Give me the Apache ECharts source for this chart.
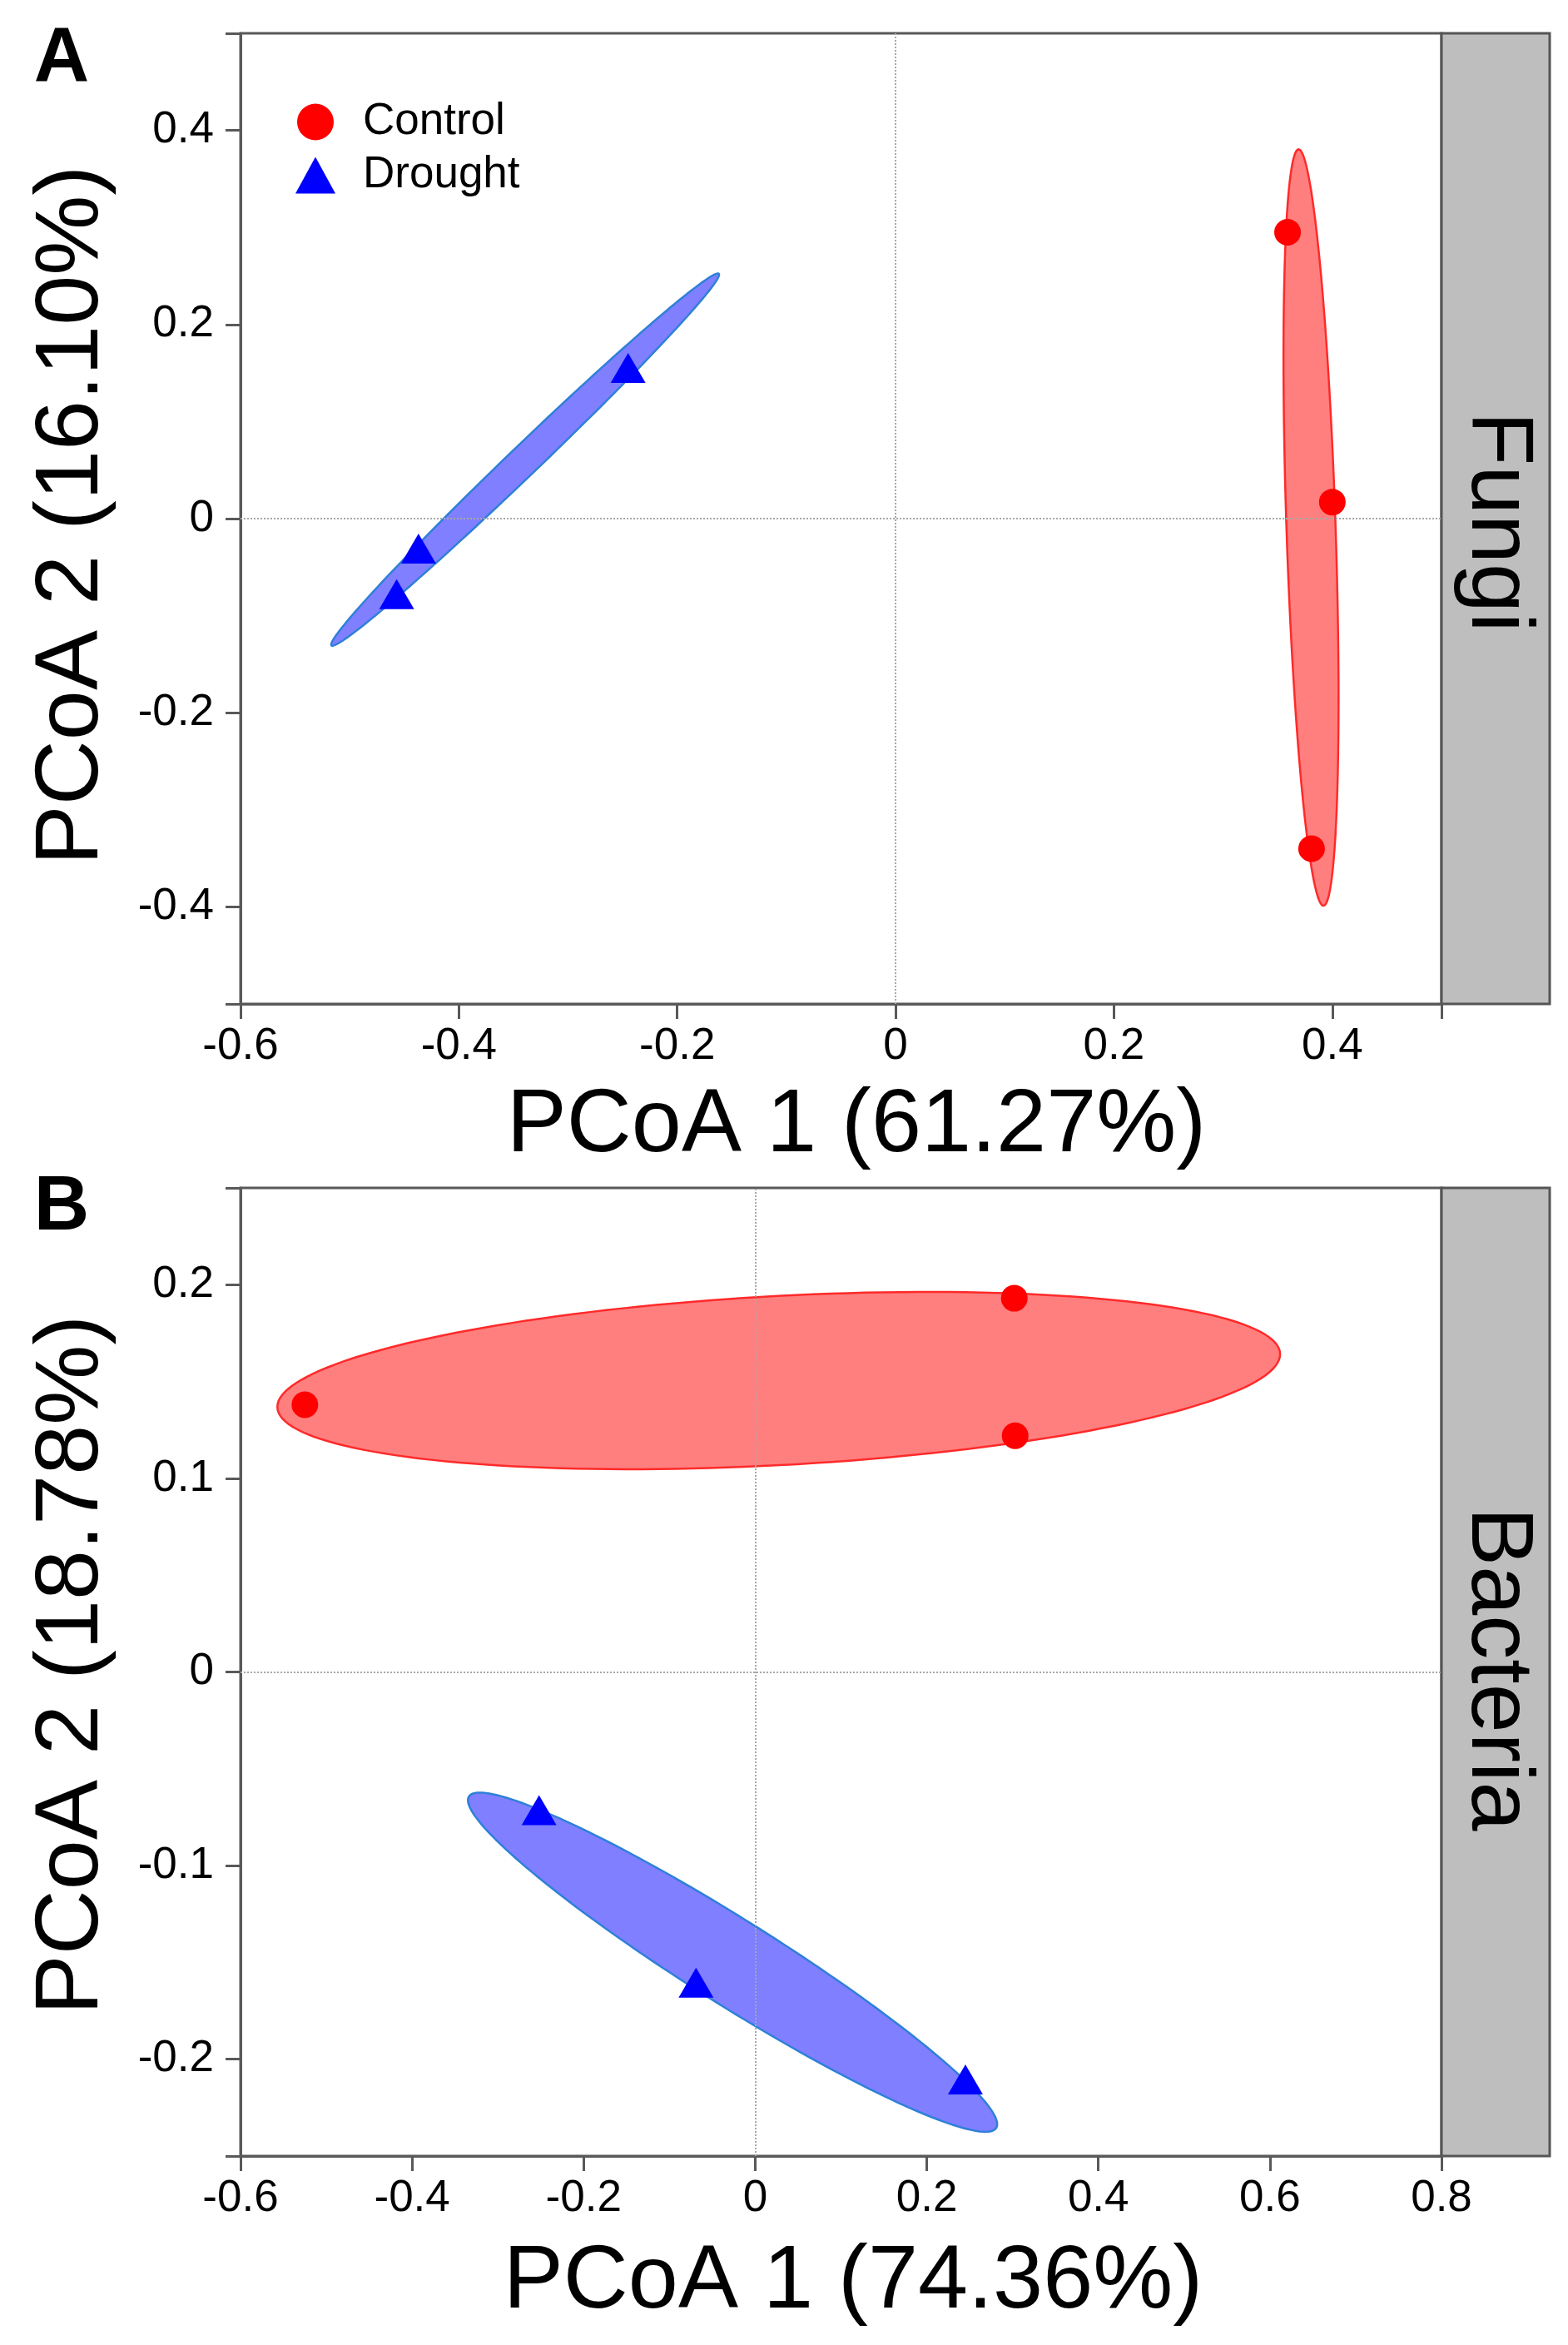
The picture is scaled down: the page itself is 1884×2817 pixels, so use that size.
<!DOCTYPE html>
<html>
<head>
<meta charset="utf-8">
<title>PCoA fungi / bacteria</title>
<script src="https://cdn.jsdelivr.net/npm/echarts@6/dist/echarts.min.js"></script>
<style>
    html, body { margin: 0; padding: 0; background: #fff; }
    #chart { width: 1884px; height: 2817px; }
</style>
</head>
<body>
<div id="chart"></div>
<script>
// points [PCoA1, PCoA2]
let fungiControl = [[0.359, 0.295], [0.400, 0.017], [0.381, -0.340]];
let fungiDrought = [[-0.245, 0.150], [-0.437, -0.036], [-0.457, -0.083]];
let bactControl = [[-0.525, 0.138], [0.302, 0.193], [0.303, 0.122]];
let bactDrought = [[-0.252, -0.074], [-0.069, -0.163], [0.245, -0.213]];

// ellipses [centre x, centre y, semi-major, semi-minor, angle deg]
let fungiControlEllipse = [0.3805, -0.0092, 0.3898, 0.0225, 91.68];
let fungiDroughtEllipse = [-0.3393, 0.0608, 0.2610, 0.0145, 47.2];
let bactControlEllipse = [0.0274, 0.1505, 0.5846, 0.0437, 1.34];
let bactDroughtEllipse = [-0.0264, -0.1499, 0.3197, 0.0250, -15.27];

// axes
let fungiXLabels = [-0.6, -0.4, -0.2, 0, 0.2, 0.4];
let fungiXTicks = [-0.6, -0.4, -0.2, 0, 0.2, 0.4, 0.5];
let fungiYLabels = [-0.4, -0.2, 0, 0.2, 0.4];
let fungiYTicks = [-0.5, -0.4, -0.2, 0, 0.2, 0.4, 0.5];
let bactXLabels = [-0.6, -0.4, -0.2, 0, 0.2, 0.4, 0.6, 0.8];
let bactYLabels = [-0.2, -0.1, 0, 0.1, 0.2];
let bactYTicks = [-0.25, -0.2, -0.1, 0, 0.1, 0.2, 0.25];

let groups = ['Control', 'Drought'];
let font = '"Liberation Sans", Arial, sans-serif';
let axisColor = '#595959';

let colors = {
    Control: {point: '#ff0000', fill: 'rgba(255,0,0,0.5)', edge: '#ff2a2a'},
    Drought: {point: '#0000ff', fill: 'rgba(0,0,255,0.5)', edge: '#2f80d8'}
};

let grids = [
    {left: 289, top: 40, width: 1443, height: 1166},
    {left: 289, top: 1427, width: 1443, height: 1163}
];

/*
 * @method ellipseSeries: 置信椭圆 (custom series)
 */
function ellipseSeries(name, idx, ellipse) {
    let c = colors[name];
    return {
        name: name,
        type: 'custom',
        xAxisIndex: idx,
        yAxisIndex: idx,
        z: 1,
        silent: true,
        encode: {x: 0, y: 1},
        data: [ellipse],
        renderItem: (params, api) => {
            let cx = api.value(0), cy = api.value(1),
                a = api.value(2), b = api.value(3),
                ang = api.value(4) * Math.PI / 180;
            let pts = [];
            for(let k = 0; k < 180; k++) {
                let t = k / 180 * 2 * Math.PI;
                let dx = a * Math.cos(t), dy = b * Math.sin(t);
                pts.push(api.coord([
                    cx + dx * Math.cos(ang) - dy * Math.sin(ang),
                    cy + dx * Math.sin(ang) + dy * Math.cos(ang)
                ]));
            }
            return {
                type: 'polygon',
                shape: {points: pts},
                style: {fill: c.fill, stroke: c.edge, lineWidth: 2.5}
            };
        }
    };
}

function pointSeries(name, idx, data) {
    let isCtrl = name === 'Control';
    return {
        name: name,
        type: 'scatter',
        xAxisIndex: idx,
        yAxisIndex: idx,
        z: 3,
        symbol: isCtrl ? 'circle' : 'triangle',
        symbolSize: isCtrl ? 32 : [42, 36],
        symbolOffset: isCtrl ? [0, 0] : [0, -6],
        itemStyle: {color: colors[name].point, opacity: 1},
        data: data
    };
}

// 零线 (dotted)
function zeroLines(idx) {
    return {
        type: 'scatter',
        xAxisIndex: idx,
        yAxisIndex: idx,
        z: 0,
        data: [],
        markLine: {
            silent: true,
            symbol: ['none', 'none'],
            label: {show: false},
            lineStyle: {type: 'dotted', color: '#a8a8a8', width: 2},
            data: [{xAxis: 0}, {yAxis: 0}]
        }
    };
}

function xAxis(idx, min, max, labels, ticks) {
    return {
        type: 'value',
        gridIndex: idx,
        min: min,
        max: max,
        axisLine: {show: true, onZero: false, lineStyle: {color: axisColor, width: 3}},
        axisTick: {show: true, length: 18, customValues: ticks, lineStyle: {color: axisColor, width: 3}},
        axisLabel: {customValues: labels, fontSize: 53, fontFamily: font, color: '#000', margin: 25},
        splitLine: {show: false}
    };
}

function yAxis(idx, min, max, labels, ticks) {
    return {
        type: 'value',
        gridIndex: idx,
        min: min,
        max: max,
        axisLine: {show: true, onZero: false, lineStyle: {color: axisColor, width: 3}},
        axisTick: {show: true, length: 18, customValues: ticks, lineStyle: {color: axisColor, width: 3}},
        axisLabel: {customValues: labels, fontSize: 53, fontFamily: font, color: '#000', margin: 32},
        splitLine: {show: false}
    };
}

function text(str, x, y, size, rotation, bold) {
    return {
        type: 'text',
        x: x,
        y: y,
        rotation: rotation || 0,
        silent: true,
        style: {
            text: str,
            fontSize: size,
            fontFamily: font,
            fontWeight: bold ? 'bold' : 'normal',
            fill: '#000',
            align: 'center',
            verticalAlign: 'middle'
        }
    };
}

function strip(g, label, ty) {
    return [{
        type: 'rect',
        silent: true,
        shape: {x: g.left + g.width, y: g.top, width: 130, height: g.height},
        style: {fill: '#bebebe', stroke: '#555', lineWidth: 3}
    }, text(label, g.left + g.width + 66, ty, 106, -Math.PI / 2)];
}

let chart = echarts.init(document.getElementById('chart'));

chart.setOption({
    animation: false,
    backgroundColor: '#fff',
    grid: grids.map(g => Object.assign({show: true, borderColor: axisColor, borderWidth: 3, backgroundColor: 'transparent'}, g)),
    xAxis: [
        xAxis(0, -0.6, 0.5, fungiXLabels, fungiXTicks),
        xAxis(1, -0.6, 0.8, bactXLabels, bactXLabels)
    ],
    yAxis: [
        yAxis(0, -0.5, 0.5, fungiYLabels, fungiYTicks),
        yAxis(1, -0.25, 0.25, bactYLabels, bactYTicks)
    ],
    legend: {
        data: groups.map(n => ({
            name: n,
            icon: n === 'Control' ? 'circle' : 'triangle',
            itemStyle: {color: colors[n].point, borderWidth: 0}
        })),
        orient: 'vertical',
        left: 350,
        top: 115,
        itemWidth: 48,
        itemHeight: 44,
        itemGap: 11,
        selectedMode: false,
        textStyle: {fontSize: 53, fontFamily: font, color: '#000', lineHeight: 44, padding: [0, 0, 0, 28]}
    },
    graphic: [].concat(
        strip(grids[0], 'Fungi', 627),
        strip(grids[1], 'Bacteria', 2005),
        [
            text('A', 74, 72, 92, 0, true),
            text('B', 74, 1452, 92, 0, true),
            text('PCoA 1 (61.27%)', 1029, 1353, 108),
            text('PCoA 1 (74.36%)', 1025, 2742, 108),
            text('PCoA 2 (16.10%)', 87, 619, 108, Math.PI / 2),
            text('PCoA 2 (18.78%)', 87, 2000, 108, Math.PI / 2)
        ]
    ),
    series: [
        zeroLines(0),
        zeroLines(1),
        ellipseSeries('Control', 0, fungiControlEllipse),
        ellipseSeries('Drought', 0, fungiDroughtEllipse),
        ellipseSeries('Control', 1, bactControlEllipse),
        ellipseSeries('Drought', 1, bactDroughtEllipse),
        pointSeries('Control', 0, fungiControl),
        pointSeries('Drought', 0, fungiDrought),
        pointSeries('Control', 1, bactControl),
        pointSeries('Drought', 1, bactDrought)
    ]
});
</script>
</body>
</html>
